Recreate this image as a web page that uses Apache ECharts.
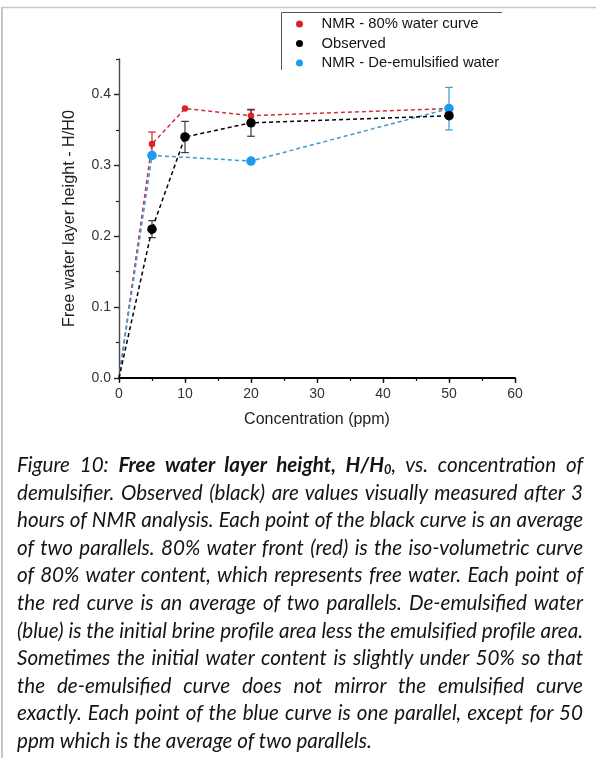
<!DOCTYPE html>
<html>
<head>
<meta charset="utf-8">
<title>Free water layer height vs. demulsifier concentration</title>
<script src="https://cdn.jsdelivr.net/npm/echarts@6/dist/echarts.min.js"></script>
<style>
  html, body { margin: 0; padding: 0; background: #fff; }
  #wrap { position: relative; width: 596px; height: 758px; overflow: hidden; }
  #chart { position: absolute; left: 0; top: 0; width: 596px; height: 758px; }
  #caption { position: absolute; left: 17px; top: 451px; width: 566px;
             font-family: Lato, "Open Sans", sans-serif; font-style: italic; color: #141414; }
  #caption .ln { height: 27.6px; line-height: 27.6px; text-align: justify; text-align-last: justify; white-space: nowrap; }
  #caption .ln.last { text-align: left; text-align-last: left; }
  #caption b { font-weight: 700; }
  #caption sub { font-size: 62%; vertical-align: -0.15em; line-height: 0; }
</style>
</head>
<body>
<div id="wrap">
  <div id="chart"></div>
  <div id="caption"></div>
</div>
<script>
// ---- data ----
const legendNames = ['NMR - 80% water curve', 'Observed', 'NMR - De-emulsified water'];

const concNmr80 = [0, 5, 10, 20, 50];
const nmr80 = [0, 0.33, 0.38, 0.37, 0.38];
const nmr80Err = [0, 0.017, 0, 0.008, 0];

const concObserved = [0, 5, 10, 20, 50];
const observed = [0, 0.21, 0.34, 0.36, 0.37];
const observedErr = [0, 0.012, 0.022, 0.019, 0];

const concDeEmul = [0, 5, 20, 50];
const deEmul = [0, 0.314, 0.306, 0.38];
const deEmulErr = [0, 0, 0, 0.03];

const xMajorTicks = [0, 10, 20, 30, 40, 50, 60];
const yMajorTicks = [0, 0.1, 0.2, 0.3, 0.4];
const yMinorTicks = [0.05, 0.15, 0.25, 0.35, 0.45];

const axisTitleX = 'Concentration (ppm)';
const axisTitleY = 'Free water layer height - H/H0';

// caption: each line is a list of [text, style] pieces ('' normal, 'b' bold, 'bs' bold subscript)
const captionLines = [
  [['Figure 10: ', ''], ['Free water layer height, H/H', 'b'], ['0', 'bs'], [', vs. concentration of', '']],
  [['demulsifier. Observed (black) are values visually measured after 3', '']],
  [['hours of NMR analysis. Each point of the black curve is an average', '']],
  [['of two parallels. 80% water front (red) is the iso-volumetric curve', '']],
  [['of 80% water content, which represents free water. Each point of', '']],
  [['the red curve is an average of two parallels. De-emulsified water', '']],
  [['(blue) is the initial brine profile area less the emulsified profile area.', '']],
  [['Sometimes the initial water content is slightly under 50% so that', '']],
  [['the de-emulsified curve does not mirror the emulsified curve', '']],
  [['exactly. Each point of the blue curve is one parallel, except for 50', '']],
  [['ppm which is the average of two parallels.', '']]
];

// ---- styles ----
const FONT = '"Liberation Sans", Arial, sans-serif';
const RED = '#dc2229', RED_LINE = '#c9313b';
const BLACK = '#000000', BLACK_ERR = '#3a3a3a';
const BLUE = '#1a9bef', BLUE_LINE = '#3c9ad3';

function points(xs, ys) {
  return xs.map((x, i) => (x === 0 ? { value: [x, ys[i]], symbol: 'none' } : [x, ys[i]]));
}

function errorBars(xs, ys, errs, color, z) {
  const data = [];
  xs.forEach((x, i) => { if (errs[i] > 0) data.push([x, ys[i] - errs[i], ys[i] + errs[i]]); });
  return {
    type: 'custom',
    data: data,
    z: z,
    silent: true,
    encode: { x: 0, y: [1, 2] },
    renderItem: function (params, api) {
      const x = api.value(0);
      const lo = api.coord([x, api.value(1)]);
      const hi = api.coord([x, api.value(2)]);
      const w = 3.8;
      const st = { stroke: color, lineWidth: 1.2 };
      return {
        type: 'group',
        children: [
          { type: 'line', shape: { x1: lo[0], y1: lo[1], x2: hi[0], y2: hi[1] }, style: st },
          { type: 'line', shape: { x1: hi[0] - w, y1: hi[1], x2: hi[0] + w, y2: hi[1] }, style: st },
          { type: 'line', shape: { x1: lo[0] - w, y1: lo[1], x2: lo[0] + w, y2: lo[1] }, style: st }
        ]
      };
    }
  };
}

function lineSeries(name, xs, ys, color, lineColor, size, z) {
  return {
    type: 'line',
    name: name,
    data: points(xs, ys),
    z: z,
    symbol: 'circle',
    symbolSize: size,
    showAllSymbol: true,
    itemStyle: { color: color, borderWidth: 0 },
    lineStyle: { color: lineColor, width: 1.5, type: [4, 3] },
    emphasis: { disabled: true },
    animation: false
  };
}

const chart = echarts.init(document.getElementById('chart'), null, { renderer: 'canvas' });

chart.setOption({
  animation: false,
  backgroundColor: '#ffffff',
  textStyle: { fontFamily: FONT },
  grid: { left: 119, right: 81, top: 59, bottom: 380, containLabel: false, outerBoundsMode: 'none' },
  legend: {
    data: legendNames,
    orient: 'vertical',
    left: 296,
    top: 16.5,
    padding: 0,
    itemGap: 4.5,
    itemWidth: 34,
    itemHeight: 7,
    icon: 'circle',
    itemStyle: { borderWidth: 0 },
    textStyle: { fontFamily: FONT, fontSize: 14.8, color: '#141414', lineHeight: 15 },
    selectedMode: false
  },
  xAxis: [
    {
      type: 'value', min: 0, max: 60, interval: 10,
      name: axisTitleX, nameLocation: 'middle', nameGap: 34,
      nameTextStyle: { fontFamily: FONT, fontSize: 16, color: '#1e1e1e' },
      axisLine: { show: true, onZero: false, lineStyle: { color: '#000', width: 2 } },
      axisTick: { show: true, length: 5, lineStyle: { color: '#111', width: 1.4 }, customValues: xMajorTicks },
      axisLabel: { fontFamily: FONT, fontSize: 14, color: '#333', margin: 9, customValues: xMajorTicks },
      splitLine: { show: false }
    },
    {
      type: 'value', min: 0, max: 60, interval: 5, position: 'bottom',
      axisLine: { show: false },
      axisTick: { show: true, length: 3, lineStyle: { color: '#111', width: 1.2 } },
      axisLabel: { show: false },
      splitLine: { show: false }
    }
  ],
  yAxis: [
    {
      type: 'value', min: 0, max: 0.45, interval: 0.1,
      name: axisTitleY, nameLocation: 'middle', nameGap: 41,
      nameTextStyle: { fontFamily: FONT, fontSize: 16.2, color: '#1e1e1e' },
      axisLine: { show: true, onZero: false, lineStyle: { color: '#4a4a4a', width: 1.4 } },
      axisTick: { show: true, length: 5, lineStyle: { color: '#222', width: 1.4 }, customValues: yMajorTicks },
      axisLabel: {
        fontFamily: FONT, fontSize: 14, color: '#333', margin: 8, customValues: yMajorTicks,
        formatter: v => (Math.abs(v - 0.45) < 1e-9 ? '' : v.toFixed(1))
      },
      splitLine: { show: false }
    },
    {
      type: 'value', min: 0, max: 0.45, interval: 0.05, position: 'left',
      axisLine: { show: false },
      axisTick: { show: true, length: 3, lineStyle: { color: '#222', width: 1.2 }, customValues: yMinorTicks },
      axisLabel: { show: false },
      splitLine: { show: false }
    }
  ],
  series: [
    errorBars(concNmr80, nmr80, nmr80Err, RED, 1),
    errorBars(concObserved, observed, observedErr, BLACK_ERR, 1),
    errorBars(concDeEmul, deEmul, deEmulErr, BLUE_LINE, 1),
    lineSeries(legendNames[0], concNmr80, nmr80, RED, RED_LINE, 6.5, 3),
    lineSeries(legendNames[2], concDeEmul, deEmul, BLUE, BLUE_LINE, 9.5, 4),
    lineSeries(legendNames[1], concObserved, observed, BLACK, BLACK, 9.5, 5)
  ],
  graphic: [
    // page frame
    { type: 'line', shape: { x1: 1, y1: 7.5, x2: 596, y2: 7.5 }, style: { stroke: '#c6c6c6', lineWidth: 1.5 }, silent: true },
    { type: 'line', shape: { x1: 2, y1: 7, x2: 2, y2: 758 }, style: { stroke: '#c6c6c6', lineWidth: 2 }, silent: true },
    // legend frame
    { type: 'line', shape: { x1: 281.5, y1: 12.5, x2: 502, y2: 12.5 }, style: { stroke: '#555', lineWidth: 1 }, silent: true },
    { type: 'line', shape: { x1: 281.5, y1: 12.5, x2: 281.5, y2: 70 }, style: { stroke: '#555', lineWidth: 1 }, silent: true }
  ]
});

// ---- caption (justified lines) ----
(function buildCaption() {
  const box = document.getElementById('caption');
  const ctx = document.createElement('canvas').getContext('2d');
  const family = 'Lato, "Open Sans", sans-serif';
  const widthAt = (line, px) => {
    let w = 0;
    line.forEach(([t, s]) => {
      const f = s === 'bs' ? 0.62 : 1;
      ctx.font = `italic ${s ? 700 : 400} ${px * f}px ${family}`;
      w += ctx.measureText(t).width;
    });
    return w;
  };
  // the longest plain line sets the type size
  const ref = captionLines[6];
  const size = 18 * 564 / widthAt(ref, 18);
  box.style.fontSize = size.toFixed(2) + 'px';
  captionLines.forEach((line, idx) => {
    const div = document.createElement('div');
    div.className = 'ln' + (idx === captionLines.length - 1 ? ' last' : '');
    const natural = widthAt(line, size);
    if (natural > 563) {
      const chars = line.reduce((n, [t]) => n + t.length, 0);
      div.style.letterSpacing = ((563 - natural) / chars).toFixed(3) + 'px';
    }
    line.forEach(([t, s]) => {
      let el;
      if (s === 'b') { el = document.createElement('b'); el.textContent = t; }
      else if (s === 'bs') { el = document.createElement('b'); const sub = document.createElement('sub'); sub.textContent = t; el.appendChild(sub); }
      else { el = document.createTextNode(t); }
      div.appendChild(el);
    });
    box.appendChild(div);
  });
})();
</script>
</body>
</html>
